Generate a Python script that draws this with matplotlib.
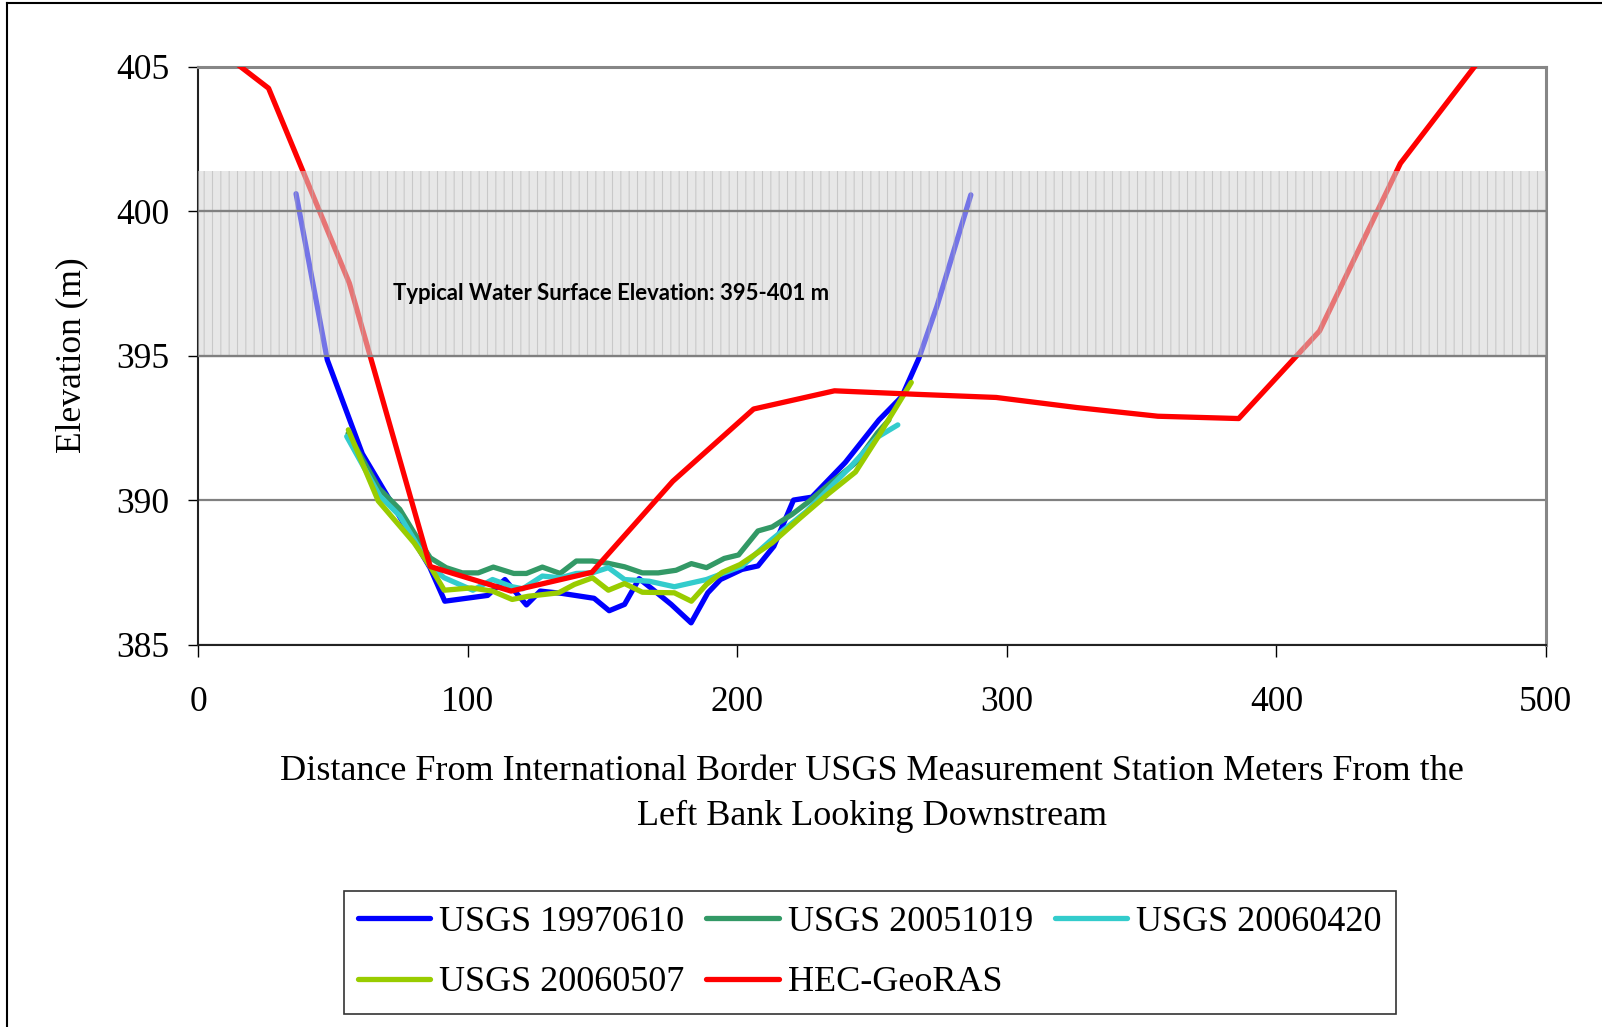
import matplotlib
matplotlib.use("Agg")
import matplotlib.pyplot as plt
from matplotlib.lines import Line2D

plt.rcParams['font.family'] = ['Liberation Serif', 'DejaVu Serif']
plt.rcParams['hatch.linewidth'] = 0.8

# surveyed cross sections (distance from left bank, m / elevation, m)
blue_x = [36.2, 47.8, 60.8, 85.9, 91.4, 107.3, 113.7, 121.7, 126.8, 134.9, 146.8, 152.4, 158.1, 163.5, 168.0,
          175.4, 182.8, 189.0, 193.7, 201.7, 207.6, 213.5, 220.8, 227.6, 240.0, 252.5, 261.0, 267.3, 274.0, 286.6]
blue_y = [400.6, 394.85, 391.6, 387.66, 386.5, 386.7, 387.25, 386.37, 386.85, 386.77, 386.6, 386.17, 386.39, 387.28, 386.95,
          386.39, 385.75, 386.79, 387.25, 387.6, 387.72, 388.4, 390.0, 390.1, 391.3, 392.77, 393.58, 394.9, 396.7, 400.56]

green_x = [55.5, 67.0, 74.7, 80.0, 86.0, 91.9, 97.9, 103.8, 109.4, 117.0, 121.7, 127.6, 134.2, 140.2, 146.1, 152.1,
           158.1, 164.7, 170.6, 177.2, 182.9, 188.5, 195.1, 200.4, 207.6, 212.9, 220.2, 226.8, 234.7, 244.0, 252.0, 256.2]
green_y = [392.3, 390.4, 389.68, 388.87, 388.0, 387.66, 387.48, 387.48, 387.68, 387.46, 387.46, 387.68, 387.46, 387.89, 387.89, 387.81,
           387.69, 387.48, 387.48, 387.57, 387.8, 387.66, 387.98, 388.1, 388.93, 389.07, 389.5, 389.97, 390.6, 391.3, 392.33, 392.77]

cyan_x = [55.0, 67.3, 74.7, 80.0, 86.0, 91.2, 101.8, 109.1, 116.4, 120.3, 127.6, 134.2, 140.2, 146.1, 152.1, 158.1,
          167.3, 176.6, 188.5, 195.1, 201.7, 212.3, 225.5, 241.4, 252.0, 259.5]
cyan_y = [392.2, 390.14, 389.45, 388.64, 387.7, 387.31, 386.88, 387.25, 387.0, 386.93, 387.37, 387.31, 387.46, 387.48, 387.66, 387.25,
          387.19, 387.0, 387.25, 387.48, 387.71, 388.6, 389.6, 391.1, 392.18, 392.6]

yg_x = [55.6, 66.7, 74.7, 80.0, 86.0, 91.2, 101.2, 109.1, 116.4, 122.3, 133.6, 139.5, 146.2, 152.1, 158.1, 164.7,
        176.6, 182.9, 188.5, 194.4, 201.0, 212.9, 222.9, 233.5, 243.8, 252.0, 264.5]
yg_y = [392.43, 389.97, 389.1, 388.52, 387.7, 386.88, 386.96, 386.85, 386.56, 386.67, 386.79, 387.08, 387.31, 386.88, 387.11, 386.81,
        386.79, 386.5, 387.08, 387.5, 387.77, 388.52, 389.35, 390.2, 390.97, 392.16, 394.07]

red_x = [-4, 26, 56, 86, 116, 146, 176, 206, 236, 266, 296, 326, 356, 386, 416, 446, 476]
red_y = [406.4, 404.25, 397.5, 387.7, 386.85, 387.5, 390.65, 393.15, 393.78, 393.66, 393.55, 393.2, 392.9, 392.82, 395.85, 401.65, 405.3]

series = [
    ("USGS 19970610", blue_x, blue_y, "#0000ff"),
    ("USGS 20051019", green_x, green_y, "#339966"),
    ("USGS 20060420", cyan_x, cyan_y, "#33cccc"),
    ("USGS 20060507", yg_x, yg_y, "#99cc00"),
    ("HEC-GeoRAS", red_x, red_y, "#ff0000"),
]

band_lo, band_hi = 395, 401.4
band_text = "Typical Water Surface Elevation: 395-401 m"

fig = plt.figure(figsize=(16.02, 10.27), dpi=100)
ax = fig.add_axes([0.1239, 0.3724, 0.9650 - 0.1239, 0.9352 - 0.3724])

handles = []
for i, (name, xs, ys, c) in enumerate(series):
    ln, = ax.plot(xs, ys, color=c, lw=3.8, label=name, zorder=3 + i * 0.1,
                  solid_joinstyle='round', solid_capstyle='round')
    handles.append(ln)

# water surface band drawn over the lines
ax.axhspan(band_lo, band_hi, facecolor='#d4d4d4', edgecolor='#b0b0b0', hatch='||',
           lw=0, alpha=0.55, zorder=4)
for yv in [395, 400]:
    ax.axhline(yv, color='#808080', lw=1.6, zorder=4.5)
ax.text(153, 397.16, band_text, ha='center', va='center', fontsize=15.9,
        fontweight='bold', family=['Lato', 'DejaVu Sans'], zorder=6)

ax.set_xlim(0, 500)
ax.set_ylim(385, 405)
ax.set_xticks([0, 100, 200, 300, 400, 500])
ax.set_yticks([385, 390, 395, 400, 405])
ax.yaxis.grid(True, color='#808080', lw=1.6)
ax.set_axisbelow(True)

for s in ['top', 'right']:
    ax.spines[s].set_color('#868686')
    ax.spines[s].set_linewidth(2.2)
for s in ['left', 'bottom']:
    ax.spines[s].set_color('#222222')
    ax.spines[s].set_linewidth(1.5)

ax.tick_params(axis='x', direction='out', length=8.6, width=1, pad=21, labelsize=25.5)
ax.tick_params(axis='y', direction='out', length=7.2, width=1, pad=14, labelsize=25.5)

ax.set_ylabel("Elevation (m)", fontsize=25.5, labelpad=20)
ax.set_xlabel("Distance From International Border USGS Measurement Station Meters From the\n"
              "Left Bank Looking Downstream", fontsize=26, labelpad=26, linespacing=1.5)

# legend filled row by row: reorder for matplotlib's column-major layout
order = [0, 3, 1, 4, 2]
leg = ax.legend([handles[k] for k in order], [series[k][0] for k in order],
                loc='center', bbox_to_anchor=(0.5429, 0.0725), bbox_transform=fig.transFigure,
                ncol=3, fontsize=26, frameon=True, fancybox=False, edgecolor='black',
                handlelength=2.0, handletextpad=0.25, columnspacing=0.6, labelspacing=0.75,
                borderpad=0.4)
leg.get_frame().set_linewidth(1.2)

# outer chart frame (only left and top edges visible in the crop)
fig.add_artist(Line2D([0.00456, 0.00456], [0.0, 0.9974], transform=fig.transFigure, color='black', lw=1.5))
fig.add_artist(Line2D([0.00456, 1.0], [0.9974, 0.9974], transform=fig.transFigure, color='black', lw=1.5))

fig.savefig("out.png", dpi=100)
